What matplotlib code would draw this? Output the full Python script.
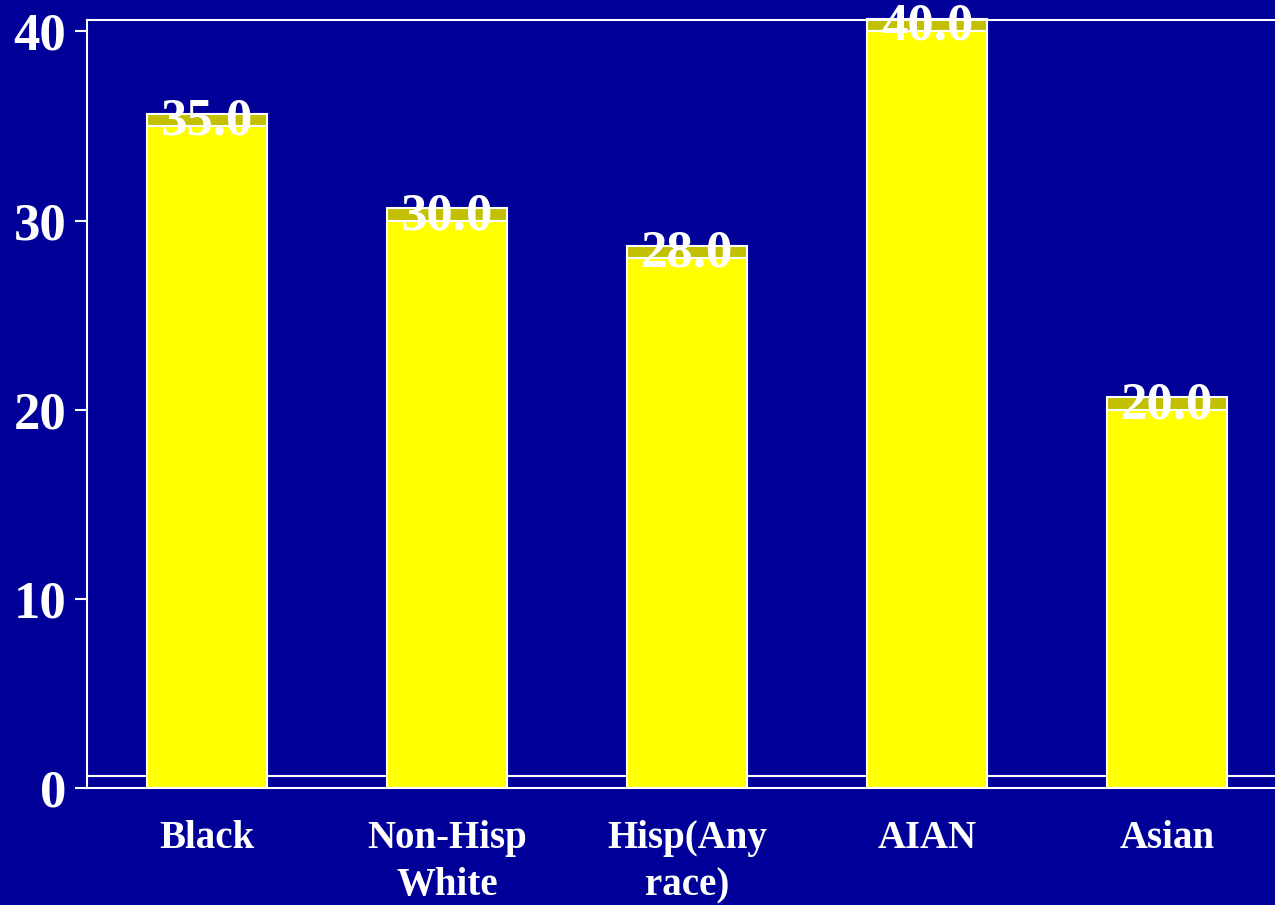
import matplotlib
matplotlib.use("Agg")
import matplotlib.pyplot as plt

# Data
categories = ["Black", "Non-Hisp\nWhite", "Hisp(Any\nrace)", "AIAN", "Asian"]
values = [35.0, 30.0, 28.0, 40.0, 20.0]
yticks = [0, 10, 20, 30, 40]

BG = "#000099"
FACE = "#FFFF00"
TOP = "#C2C000"
DEPTH = 0.65  # height of the pseudo-3D cap and floor

plt.rcParams["font.family"] = ["Liberation Serif", "DejaVu Serif"]
plt.rcParams["font.weight"] = "bold"

fig = plt.figure(figsize=(12.75, 9.05), dpi=100, facecolor=BG)
ax = fig.add_axes([87 / 1275, 1 - 788 / 905, 1 - 87 / 1275, (788 - 20) / 905])
ax.set_facecolor(BG)

x = list(range(len(categories)))
width = 0.5

# floor line of the 3D base, drawn behind the bars
ax.axhline(DEPTH, color="white", lw=1.5, zorder=1)

ax.bar(x, values, width=width, color=FACE, edgecolor="white", linewidth=1.5, zorder=2)
ax.bar(x, [DEPTH] * len(values), bottom=values, width=width, color=TOP,
       edgecolor="white", linewidth=1.5, zorder=2, clip_on=False)

for xi, v in zip(x, values):
    ax.text(xi, v - 0.45, f"{v:.1f}", ha="center", va="baseline", color="white",
            fontsize=38, fontweight="bold", zorder=5, clip_on=False)

ax.set_xlim(-0.5, 4.45)
ax.set_ylim(0, 40.6)
ax.set_yticks(yticks)
ax.set_xticks(x)
ax.set_xticklabels(categories, fontsize=28, fontweight="bold", color="white",
                   linespacing=1.36)
ax.set_yticklabels([str(t) for t in yticks], fontsize=38, fontweight="bold", color="white")

ax.tick_params(axis="y", colors="white", length=9, width=1.5, pad=6)
ax.tick_params(axis="x", length=0, pad=23, colors="white")

for side in ["left", "top", "bottom"]:
    ax.spines[side].set_color("white")
    ax.spines[side].set_linewidth(1.5)
ax.spines["right"].set_visible(False)

fig.savefig("out.png", dpi=100, facecolor=BG)
